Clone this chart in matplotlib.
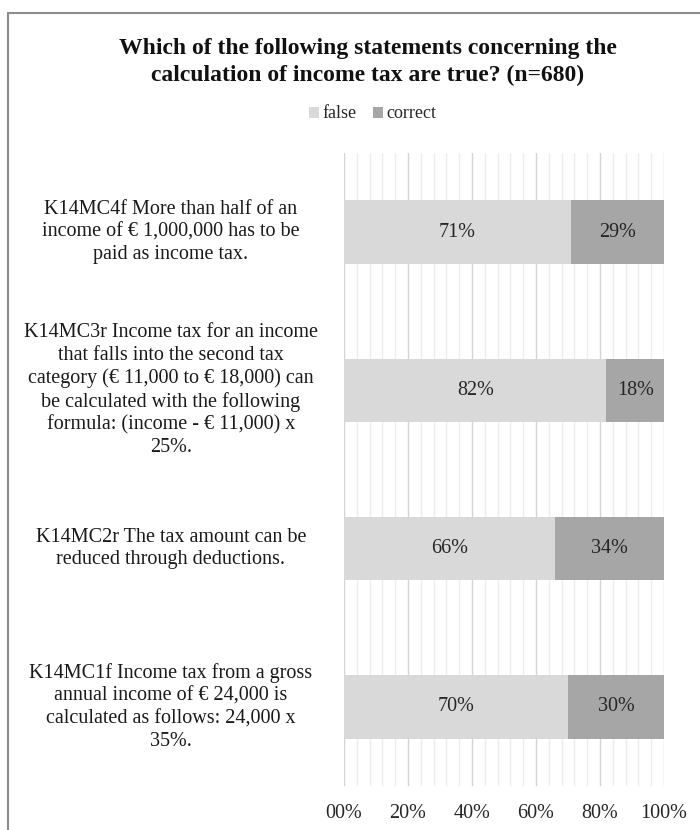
import numpy as np
import matplotlib
matplotlib.use("Agg")
import matplotlib.pyplot as plt
from matplotlib.patches import Rectangle
from matplotlib.transforms import blended_transform_factory
from matplotlib.ticker import MultipleLocator

plt.rcParams['font.family'] = ['Liberation Serif', 'DejaVu Serif']

# data, top to bottom
labels = [
    "K14MC4f More than half of an\nincome of \u20ac 1,000,000 has to be\npaid as income tax.",
    "K14MC3r Income tax for an income\nthat falls into the second tax\ncategory (\u20ac 11,000 to \u20ac 18,000) can\nbe calculated with the following\nformula: (income - \u20ac 11,000) x\n25%.",
    "K14MC2r The tax amount can be\nreduced through deductions.",
    "K14MC1f Income tax from a gross\nannual income of \u20ac 24,000 is\ncalculated as follows: 24,000 x\n35%.",
]
false_pct = [71, 82, 66, 70]
correct_pct = [29, 18, 34, 30]
tick_vals = [0, 20, 40, 60, 80, 100]
tick_text = ["00%", "20%", "40%", "60%", "80%", "100%"]

W, H = 700, 830
fig = plt.figure(figsize=(W / 100, H / 100), dpi=100)

# frame around the chart (cut off at right and bottom)
fig.patches.append(Rectangle((8 / W, -0.1), 1.2, 1 - 13 / H + 0.1,
                             transform=fig.transFigure, fill=False,
                             edgecolor='#8c8c8c', linewidth=1.5))

ax = fig.add_axes([344 / W, 1 - 786 / H, 320 / W, (786 - 153) / H])

y = np.arange(len(labels))
ax.barh(y, false_pct, height=0.4, color='#d9d9d9', label='false', zorder=3)
ax.barh(y, correct_pct, left=false_pct, height=0.4, color='#a6a6a6',
        label='correct', zorder=3)

for i in range(len(labels)):
    ax.text(false_pct[i] / 2, y[i], f"{false_pct[i]}%", ha='center',
            va='center', fontsize=14.5, color='#262626', zorder=4)
    ax.text(false_pct[i] + correct_pct[i] / 2, y[i], f"{correct_pct[i]}%",
            ha='center', va='center', fontsize=14.5, color='#262626', zorder=4)

ax.set_xlim(0, 100)
ax.set_ylim(len(labels) - 0.5, -0.5)
ax.set_xticks(tick_vals)
ax.set_xticklabels(tick_text, fontsize=14.5, color='#262626')
ax.xaxis.set_minor_locator(MultipleLocator(4))
ax.grid(axis='x', which='major', color='#d4d4d4', linewidth=1.0, zorder=0)
ax.grid(axis='x', which='minor', color='#ededed', linewidth=1.0, zorder=0)
ax.tick_params(axis='x', which='both', length=0, pad=13)
ax.set_yticks([])
for s in ax.spines.values():
    s.set_visible(False)

tr = blended_transform_factory(fig.transFigure, ax.transData)
for i, lab in enumerate(labels):
    fig.text(171 / W, y[i], lab, transform=tr, ha='center', va='center',
             multialignment='center', fontsize=14.5, color='#1a1a1a',
             linespacing=1.25)

fig.text(368 / W, 1 - 62 / H,
         "Which of the following statements concerning the\n"
         "calculation of income tax are true? (n=680)",
         ha='center', va='center', fontsize=17, fontweight='bold',
         color='#111111', linespacing=1.35)

fig.legend(loc='center', bbox_to_anchor=(373 / W, 1 - 114 / H), ncol=2,
           frameon=False, fontsize=13, handlelength=0.55, handleheight=0.55,
           handletextpad=0.2, columnspacing=0.9, labelcolor='#262626')

fig.savefig("out.png", dpi=100)
